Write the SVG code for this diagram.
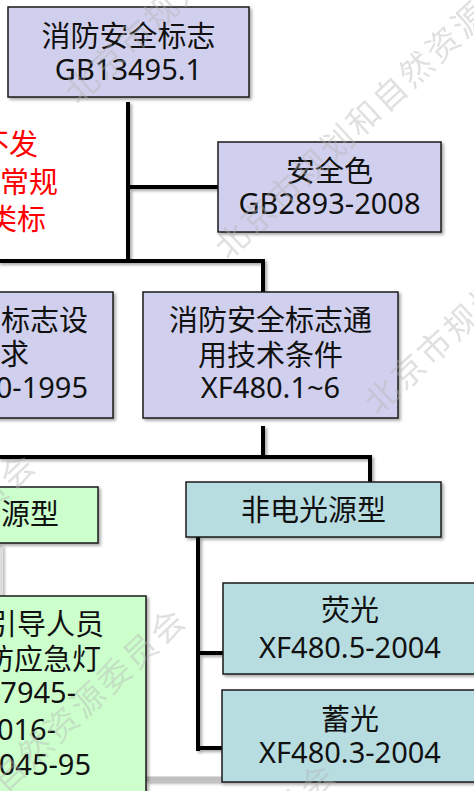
<svg xmlns="http://www.w3.org/2000/svg" width="474" height="791" viewBox="0 0 474 791">
<defs>
<filter id="sh" x="-10%" y="-10%" width="130%" height="130%">
<feDropShadow dx="2" dy="2" stdDeviation="1.5" flood-color="#000" flood-opacity="0.35"/>
</filter>
<style>
.box{stroke:#1a1a1a;stroke-width:1.5;filter:url(#sh)}
.lav{fill:#d0d0ee}
.teal{fill:#b7dde1}
.grn{fill:#ccffcc}
.t{font-family:"Noto Sans","Noto Sans CJK SC",sans-serif;font-size:29px;fill:#111;text-anchor:middle}
.te{text-anchor:end}
.red{font-family:"Noto Sans CJK SC",sans-serif;font-size:29px;fill:#ff0000;text-anchor:end}
.ln{stroke:#000;stroke-width:4;fill:none;stroke-linecap:square}
.wm{font-family:"Noto Sans CJK SC",sans-serif;font-size:33px;letter-spacing:3px;fill:#b4b4b4;opacity:0.4}
</style>
</defs>
<rect width="474" height="791" fill="#fff"/>

<g id="connectors" filter="url(#sh)">
<path class="ln" d="M128 104 V261 M128 187 H218 M0 261 H263 V292"/>
<path class="ln" d="M263 428 V457 M0 457 H370 V482"/>
<path class="ln" d="M198 539 V749 M198 653 H223 M198 748 H222"/>
<line x1="1" y1="545" x2="1" y2="596" stroke="#dcdcdc" stroke-width="3"/>
<line x1="146" y1="779" x2="222" y2="779" stroke="#bfbfbf" stroke-width="5"/>
</g>

<g id="red-note">
<text class="red" x="38" y="155">不发</text>
<text class="red" x="58" y="193">常规</text>
<text class="red" x="46" y="230">类标</text>
</g>

<g id="n-root">
<rect class="box lav" x="8" y="7" width="241" height="90"/>
<text class="t" x="128.5" y="47">消防安全标志</text>
<text class="t" x="128.5" y="80">GB13495.1</text>
</g>

<g id="n-color">
<rect class="box lav" x="218" y="142" width="223" height="90"/>
<text class="t" x="329.5" y="182">安全色</text>
<text class="t" x="329.5" y="214">GB2893-2008</text>
</g>

<g id="n-setting">
<rect class="box lav" x="-20" y="292" width="133" height="126"/>
<text class="t te" x="88" y="331">标志设</text>
<text class="t te" x="29" y="365">求</text>
<text class="t te" x="88" y="398">0-1995</text>
</g>

<g id="n-general">
<rect class="box lav" x="143" y="292" width="255" height="126"/>
<text class="t" x="270.5" y="331">消防安全标志通</text>
<text class="t" x="270.5" y="366">用技术条件</text>
<text class="t" x="270.5" y="398">XF480.1~6</text>
</g>

<g id="n-electric">
<rect class="box grn" x="-20" y="487" width="118" height="56"/>
<text class="t te" x="59" y="525">源型</text>
</g>

<g id="n-nonelectric">
<rect class="box teal" x="186" y="482" width="255" height="55"/>
<text class="t" x="313.5" y="521">非电光源型</text>
</g>

<g id="n-lamp">
<rect class="box grn" x="-20" y="596" width="166" height="210"/>
<text class="t te" x="104" y="635">引导人员</text>
<text class="t te" x="101" y="670">防应急灯</text>
<text class="t te" x="76" y="703">7945-</text>
<text class="t te" x="56" y="740">016-</text>
<text class="t te" x="91" y="775">045-95</text>
</g>

<g id="n-fluor">
<rect class="box teal" x="223" y="583" width="256" height="91"/>
<text class="t" x="350" y="621">荧光</text>
<text class="t" x="350" y="658">XF480.5-2004</text>
</g>

<g id="n-phos">
<rect class="box teal" x="222" y="690" width="257" height="92"/>
<text class="t" x="350" y="730">蓄光</text>
<text class="t" x="350" y="763">XF480.3-2004</text>
</g>

<g id="watermark">
<text class="wm" transform="translate(78 106) rotate(-43)">北京市规划和自然资源委员会</text>
<text class="wm" transform="translate(228 261) rotate(-43)">北京市规划和自然资源委员会</text>
<text class="wm" transform="translate(378 416) rotate(-43)">北京市规划和自然资源委员会</text>
<text class="wm" transform="translate(-303 786) rotate(-43)">北京市规划和自然资源委员会</text>
<text class="wm" transform="translate(-153 941) rotate(-43)">北京市规划和自然资源委员会</text>
<text class="wm" transform="translate(-3 1096) rotate(-43)">北京市规划和自然资源委员会</text>
</g>
</svg>
